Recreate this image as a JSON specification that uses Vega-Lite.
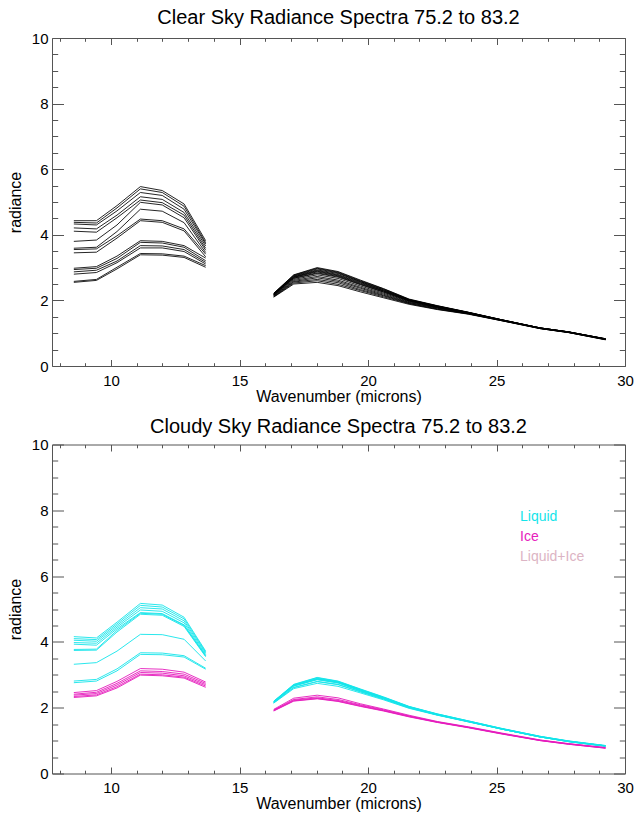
{
  "$schema": "https://vega.github.io/schema/vega-lite/v6.json",
  "padding": {"left": 7, "top": 7, "right": 5, "bottom": 5},
  "spacing": 12.5,
  "resolve": {"legend": {"color": "independent"}},
  "config": {
    "font": "Liberation Sans",
    "view": {"stroke": null},
    "axis": {"grid": false, "domainColor": "#555", "tickColor": "#555", "labelColor": "#000", "labelFontSize": 15, "titleFontSize": 16, "titleFontWeight": "normal", "titleColor": "#000", "labelFlush": false, "labelOverlap": false, "labelBound": false, "tickWidth": 1, "domainWidth": 1},
    "title": {"fontSize": 20, "fontWeight": "normal", "color": "#000", "anchor": "middle", "offset": 3.5}
  },
  "datasets": {
    "clear": [
      {"s":"1a","x":8.55,"y":4.43},{"s":"1a","x":9.43,"y":4.43},{"s":"1a","x":10.23,"y":4.89},{"s":"1a","x":11.14,"y":5.47},{"s":"1a","x":11.99,"y":5.35},{"s":"1a","x":12.84,"y":4.94},{"s":"1a","x":13.68,"y":3.82},
      {"s":"2a","x":8.55,"y":4.38},{"s":"2a","x":9.43,"y":4.36},{"s":"2a","x":10.23,"y":4.82},{"s":"2a","x":11.14,"y":5.40},{"s":"2a","x":11.99,"y":5.29},{"s":"2a","x":12.84,"y":4.87},{"s":"2a","x":13.68,"y":3.76},
      {"s":"3a","x":8.55,"y":4.33},{"s":"3a","x":9.43,"y":4.30},{"s":"3a","x":10.23,"y":4.73},{"s":"3a","x":11.14,"y":5.29},{"s":"3a","x":11.99,"y":5.20},{"s":"3a","x":12.84,"y":4.78},{"s":"3a","x":13.68,"y":3.72},
      {"s":"4a","x":8.55,"y":4.21},{"s":"4a","x":9.43,"y":4.18},{"s":"4a","x":10.23,"y":4.60},{"s":"4a","x":11.14,"y":5.16},{"s":"4a","x":11.99,"y":5.08},{"s":"4a","x":12.84,"y":4.68},{"s":"4a","x":13.68,"y":3.66},
      {"s":"5a","x":8.55,"y":4.11},{"s":"5a","x":9.43,"y":4.08},{"s":"5a","x":10.23,"y":4.52},{"s":"5a","x":11.14,"y":5.06},{"s":"5a","x":11.99,"y":4.98},{"s":"5a","x":12.84,"y":4.60},{"s":"5a","x":13.68,"y":3.59},
      {"s":"6a","x":8.55,"y":3.80},{"s":"6a","x":9.43,"y":3.84},{"s":"6a","x":10.23,"y":4.30},{"s":"6a","x":11.14,"y":4.99},{"s":"6a","x":11.99,"y":4.91},{"s":"6a","x":12.84,"y":4.52},{"s":"6a","x":13.68,"y":3.53},
      {"s":"7a","x":8.55,"y":3.59},{"s":"7a","x":9.43,"y":3.62},{"s":"7a","x":10.23,"y":4.10},{"s":"7a","x":11.14,"y":4.78},{"s":"7a","x":11.99,"y":4.72},{"s":"7a","x":12.84,"y":4.37},{"s":"7a","x":13.68,"y":3.46},
      {"s":"8a","x":8.55,"y":3.55},{"s":"8a","x":9.43,"y":3.57},{"s":"8a","x":10.23,"y":3.97},{"s":"8a","x":11.14,"y":4.48},{"s":"8a","x":11.99,"y":4.43},{"s":"8a","x":12.84,"y":4.18},{"s":"8a","x":13.68,"y":3.41},
      {"s":"9a","x":8.55,"y":3.45},{"s":"9a","x":9.43,"y":3.47},{"s":"9a","x":10.23,"y":3.90},{"s":"9a","x":11.14,"y":4.43},{"s":"9a","x":11.99,"y":4.38},{"s":"9a","x":12.84,"y":4.12},{"s":"9a","x":13.68,"y":3.33},
      {"s":"10a","x":8.55,"y":2.98},{"s":"10a","x":9.43,"y":3.03},{"s":"10a","x":10.23,"y":3.35},{"s":"10a","x":11.14,"y":3.82},{"s":"10a","x":11.99,"y":3.80},{"s":"10a","x":12.84,"y":3.67},{"s":"10a","x":13.68,"y":3.29},
      {"s":"11a","x":8.55,"y":2.94},{"s":"11a","x":9.43,"y":2.98},{"s":"11a","x":10.23,"y":3.28},{"s":"11a","x":11.14,"y":3.77},{"s":"11a","x":11.99,"y":3.75},{"s":"11a","x":12.84,"y":3.62},{"s":"11a","x":13.68,"y":3.21},
      {"s":"12a","x":8.55,"y":2.87},{"s":"12a","x":9.43,"y":2.92},{"s":"12a","x":10.23,"y":3.20},{"s":"12a","x":11.14,"y":3.67},{"s":"12a","x":11.99,"y":3.66},{"s":"12a","x":12.84,"y":3.55},{"s":"12a","x":13.68,"y":3.16},
      {"s":"13a","x":8.55,"y":2.80},{"s":"13a","x":9.43,"y":2.85},{"s":"13a","x":10.23,"y":3.15},{"s":"13a","x":11.14,"y":3.60},{"s":"13a","x":11.99,"y":3.60},{"s":"13a","x":12.84,"y":3.49},{"s":"13a","x":13.68,"y":3.11},
      {"s":"14a","x":8.55,"y":2.58},{"s":"14a","x":9.43,"y":2.64},{"s":"14a","x":10.23,"y":3.01},{"s":"14a","x":11.14,"y":3.43},{"s":"14a","x":11.99,"y":3.42},{"s":"14a","x":12.84,"y":3.35},{"s":"14a","x":13.68,"y":3.06},
      {"s":"15a","x":8.55,"y":2.55},{"s":"15a","x":9.43,"y":2.61},{"s":"15a","x":10.23,"y":2.96},{"s":"15a","x":11.14,"y":3.39},{"s":"15a","x":11.99,"y":3.38},{"s":"15a","x":12.84,"y":3.31},{"s":"15a","x":13.68,"y":3.01},
      {"s":"1b","x":16.33,"y":2.22},{"s":"1b","x":17.11,"y":2.78},{"s":"1b","x":18.02,"y":3.00},{"s":"1b","x":18.83,"y":2.88},{"s":"1b","x":19.7,"y":2.62},{"s":"1b","x":20.6,"y":2.36},{"s":"1b","x":21.6,"y":2.04},{"s":"1b","x":22.7,"y":1.84},{"s":"1b","x":23.9,"y":1.64},{"s":"1b","x":25.2,"y":1.41},{"s":"1b","x":26.7,"y":1.16},{"s":"1b","x":27.8,"y":1.04},{"s":"1b","x":29.24,"y":0.83},
      {"s":"2b","x":16.33,"y":2.21},{"s":"2b","x":17.11,"y":2.77},{"s":"2b","x":18.02,"y":2.98},{"s":"2b","x":18.83,"y":2.86},{"s":"2b","x":19.7,"y":2.60},{"s":"2b","x":20.6,"y":2.35},{"s":"2b","x":21.6,"y":2.03},{"s":"2b","x":22.7,"y":1.83},{"s":"2b","x":23.9,"y":1.64},{"s":"2b","x":25.2,"y":1.41},{"s":"2b","x":26.7,"y":1.16},{"s":"2b","x":27.8,"y":1.04},{"s":"2b","x":29.24,"y":0.83},
      {"s":"3b","x":16.33,"y":2.21},{"s":"3b","x":17.11,"y":2.75},{"s":"3b","x":18.02,"y":2.96},{"s":"3b","x":18.83,"y":2.84},{"s":"3b","x":19.7,"y":2.58},{"s":"3b","x":20.6,"y":2.33},{"s":"3b","x":21.6,"y":2.02},{"s":"3b","x":22.7,"y":1.83},{"s":"3b","x":23.9,"y":1.63},{"s":"3b","x":25.2,"y":1.41},{"s":"3b","x":26.7,"y":1.16},{"s":"3b","x":27.8,"y":1.04},{"s":"3b","x":29.24,"y":0.83},
      {"s":"4b","x":16.33,"y":2.20},{"s":"4b","x":17.11,"y":2.74},{"s":"4b","x":18.02,"y":2.93},{"s":"4b","x":18.83,"y":2.82},{"s":"4b","x":19.7,"y":2.57},{"s":"4b","x":20.6,"y":2.32},{"s":"4b","x":21.6,"y":2.02},{"s":"4b","x":22.7,"y":1.82},{"s":"4b","x":23.9,"y":1.63},{"s":"4b","x":25.2,"y":1.41},{"s":"4b","x":26.7,"y":1.16},{"s":"4b","x":27.8,"y":1.04},{"s":"4b","x":29.24,"y":0.83},
      {"s":"5b","x":16.33,"y":2.20},{"s":"5b","x":17.11,"y":2.72},{"s":"5b","x":18.02,"y":2.91},{"s":"5b","x":18.83,"y":2.79},{"s":"5b","x":19.7,"y":2.55},{"s":"5b","x":20.6,"y":2.30},{"s":"5b","x":21.6,"y":2.01},{"s":"5b","x":22.7,"y":1.82},{"s":"5b","x":23.9,"y":1.63},{"s":"5b","x":25.2,"y":1.40},{"s":"5b","x":26.7,"y":1.16},{"s":"5b","x":27.8,"y":1.04},{"s":"5b","x":29.24,"y":0.82},
      {"s":"6b","x":16.33,"y":2.19},{"s":"6b","x":17.11,"y":2.71},{"s":"6b","x":18.02,"y":2.89},{"s":"6b","x":18.83,"y":2.77},{"s":"6b","x":19.7,"y":2.53},{"s":"6b","x":20.6,"y":2.29},{"s":"6b","x":21.6,"y":2.00},{"s":"6b","x":22.7,"y":1.81},{"s":"6b","x":23.9,"y":1.63},{"s":"6b","x":25.2,"y":1.40},{"s":"6b","x":26.7,"y":1.16},{"s":"6b","x":27.8,"y":1.04},{"s":"6b","x":29.24,"y":0.82},
      {"s":"7b","x":16.33,"y":2.18},{"s":"7b","x":17.11,"y":2.70},{"s":"7b","x":18.02,"y":2.87},{"s":"7b","x":18.83,"y":2.75},{"s":"7b","x":19.7,"y":2.51},{"s":"7b","x":20.6,"y":2.28},{"s":"7b","x":21.6,"y":1.99},{"s":"7b","x":22.7,"y":1.80},{"s":"7b","x":23.9,"y":1.62},{"s":"7b","x":25.2,"y":1.40},{"s":"7b","x":26.7,"y":1.15},{"s":"7b","x":27.8,"y":1.03},{"s":"7b","x":29.24,"y":0.82},
      {"s":"8b","x":16.33,"y":2.18},{"s":"8b","x":17.11,"y":2.68},{"s":"8b","x":18.02,"y":2.84},{"s":"8b","x":18.83,"y":2.73},{"s":"8b","x":19.7,"y":2.49},{"s":"8b","x":20.6,"y":2.26},{"s":"8b","x":21.6,"y":1.98},{"s":"8b","x":22.7,"y":1.80},{"s":"8b","x":23.9,"y":1.62},{"s":"8b","x":25.2,"y":1.40},{"s":"8b","x":26.7,"y":1.15},{"s":"8b","x":27.8,"y":1.03},{"s":"8b","x":29.24,"y":0.82},
      {"s":"9b","x":16.33,"y":2.17},{"s":"9b","x":17.11,"y":2.67},{"s":"9b","x":18.02,"y":2.82},{"s":"9b","x":18.83,"y":2.71},{"s":"9b","x":19.7,"y":2.48},{"s":"9b","x":20.6,"y":2.25},{"s":"9b","x":21.6,"y":1.98},{"s":"9b","x":22.7,"y":1.79},{"s":"9b","x":23.9,"y":1.62},{"s":"9b","x":25.2,"y":1.40},{"s":"9b","x":26.7,"y":1.15},{"s":"9b","x":27.8,"y":1.03},{"s":"9b","x":29.24,"y":0.82},
      {"s":"10b","x":16.33,"y":2.16},{"s":"10b","x":17.11,"y":2.64},{"s":"10b","x":18.02,"y":2.78},{"s":"10b","x":18.83,"y":2.67},{"s":"10b","x":19.7,"y":2.44},{"s":"10b","x":20.6,"y":2.22},{"s":"10b","x":21.6,"y":1.96},{"s":"10b","x":22.7,"y":1.78},{"s":"10b","x":23.9,"y":1.61},{"s":"10b","x":25.2,"y":1.40},{"s":"10b","x":26.7,"y":1.15},{"s":"10b","x":27.8,"y":1.03},{"s":"10b","x":29.24,"y":0.82},
      {"s":"11b","x":16.33,"y":2.15},{"s":"11b","x":17.11,"y":2.61},{"s":"11b","x":18.02,"y":2.73},{"s":"11b","x":18.83,"y":2.62},{"s":"11b","x":19.7,"y":2.40},{"s":"11b","x":20.6,"y":2.19},{"s":"11b","x":21.6,"y":1.94},{"s":"11b","x":22.7,"y":1.77},{"s":"11b","x":23.9,"y":1.60},{"s":"11b","x":25.2,"y":1.39},{"s":"11b","x":26.7,"y":1.15},{"s":"11b","x":27.8,"y":1.03},{"s":"11b","x":29.24,"y":0.81},
      {"s":"12b","x":16.33,"y":2.14},{"s":"12b","x":17.11,"y":2.58},{"s":"12b","x":18.02,"y":2.69},{"s":"12b","x":18.83,"y":2.58},{"s":"12b","x":19.7,"y":2.37},{"s":"12b","x":20.6,"y":2.16},{"s":"12b","x":21.6,"y":1.93},{"s":"12b","x":22.7,"y":1.76},{"s":"12b","x":23.9,"y":1.60},{"s":"12b","x":25.2,"y":1.39},{"s":"12b","x":26.7,"y":1.15},{"s":"12b","x":27.8,"y":1.03},{"s":"12b","x":29.24,"y":0.81},
      {"s":"13b","x":16.33,"y":2.12},{"s":"13b","x":17.11,"y":2.56},{"s":"13b","x":18.02,"y":2.64},{"s":"13b","x":18.83,"y":2.54},{"s":"13b","x":19.7,"y":2.33},{"s":"13b","x":20.6,"y":2.14},{"s":"13b","x":21.6,"y":1.91},{"s":"13b","x":22.7,"y":1.74},{"s":"13b","x":23.9,"y":1.59},{"s":"13b","x":25.2,"y":1.39},{"s":"13b","x":26.7,"y":1.14},{"s":"13b","x":27.8,"y":1.02},{"s":"13b","x":29.24,"y":0.81},
      {"s":"14b","x":16.33,"y":2.11},{"s":"14b","x":17.11,"y":2.53},{"s":"14b","x":18.02,"y":2.60},{"s":"14b","x":18.83,"y":2.49},{"s":"14b","x":19.7,"y":2.30},{"s":"14b","x":20.6,"y":2.11},{"s":"14b","x":21.6,"y":1.90},{"s":"14b","x":22.7,"y":1.73},{"s":"14b","x":23.9,"y":1.59},{"s":"14b","x":25.2,"y":1.38},{"s":"14b","x":26.7,"y":1.14},{"s":"14b","x":27.8,"y":1.02},{"s":"14b","x":29.24,"y":0.80},
      {"s":"15b","x":16.33,"y":2.10},{"s":"15b","x":17.11,"y":2.50},{"s":"15b","x":18.02,"y":2.55},{"s":"15b","x":18.83,"y":2.45},{"s":"15b","x":19.7,"y":2.26},{"s":"15b","x":20.6,"y":2.08},{"s":"15b","x":21.6,"y":1.88},{"s":"15b","x":22.7,"y":1.72},{"s":"15b","x":23.9,"y":1.58},{"s":"15b","x":25.2,"y":1.38},{"s":"15b","x":26.7,"y":1.14},{"s":"15b","x":27.8,"y":1.02},{"s":"15b","x":29.24,"y":0.80}
    ],
    "cloudy": [
      {"s":"L1a","t":"Liquid","x":8.55,"y":4.16},{"s":"L1a","t":"Liquid","x":9.43,"y":4.12},{"s":"L1a","t":"Liquid","x":10.23,"y":4.60},{"s":"L1a","t":"Liquid","x":11.14,"y":5.17},{"s":"L1a","t":"Liquid","x":11.99,"y":5.12},{"s":"L1a","t":"Liquid","x":12.84,"y":4.75},{"s":"L1a","t":"Liquid","x":13.68,"y":3.72},
      {"s":"L2a","t":"Liquid","x":8.55,"y":4.10},{"s":"L2a","t":"Liquid","x":9.43,"y":4.07},{"s":"L2a","t":"Liquid","x":10.23,"y":4.55},{"s":"L2a","t":"Liquid","x":11.14,"y":5.11},{"s":"L2a","t":"Liquid","x":11.99,"y":5.06},{"s":"L2a","t":"Liquid","x":12.84,"y":4.70},{"s":"L2a","t":"Liquid","x":13.68,"y":3.69},
      {"s":"L3a","t":"Liquid","x":8.55,"y":4.05},{"s":"L3a","t":"Liquid","x":9.43,"y":4.02},{"s":"L3a","t":"Liquid","x":10.23,"y":4.50},{"s":"L3a","t":"Liquid","x":11.14,"y":5.04},{"s":"L3a","t":"Liquid","x":11.99,"y":5.00},{"s":"L3a","t":"Liquid","x":12.84,"y":4.64},{"s":"L3a","t":"Liquid","x":13.68,"y":3.66},
      {"s":"L4a","t":"Liquid","x":8.55,"y":3.98},{"s":"L4a","t":"Liquid","x":9.43,"y":3.96},{"s":"L4a","t":"Liquid","x":10.23,"y":4.45},{"s":"L4a","t":"Liquid","x":11.14,"y":4.97},{"s":"L4a","t":"Liquid","x":11.99,"y":4.93},{"s":"L4a","t":"Liquid","x":12.84,"y":4.58},{"s":"L4a","t":"Liquid","x":13.68,"y":3.62},
      {"s":"L5a","t":"Liquid","x":8.55,"y":3.93},{"s":"L5a","t":"Liquid","x":9.43,"y":3.90},{"s":"L5a","t":"Liquid","x":10.23,"y":4.40},{"s":"L5a","t":"Liquid","x":11.14,"y":4.89},{"s":"L5a","t":"Liquid","x":11.99,"y":4.86},{"s":"L5a","t":"Liquid","x":12.84,"y":4.52},{"s":"L5a","t":"Liquid","x":13.68,"y":3.59},
      {"s":"L6a","t":"Liquid","x":8.55,"y":3.77},{"s":"L6a","t":"Liquid","x":9.43,"y":3.78},{"s":"L6a","t":"Liquid","x":10.23,"y":4.35},{"s":"L6a","t":"Liquid","x":11.14,"y":4.87},{"s":"L6a","t":"Liquid","x":11.99,"y":4.84},{"s":"L6a","t":"Liquid","x":12.84,"y":4.50},{"s":"L6a","t":"Liquid","x":13.68,"y":3.57},
      {"s":"L7a","t":"Liquid","x":8.55,"y":3.74},{"s":"L7a","t":"Liquid","x":9.43,"y":3.75},{"s":"L7a","t":"Liquid","x":10.23,"y":4.30},{"s":"L7a","t":"Liquid","x":11.14,"y":4.84},{"s":"L7a","t":"Liquid","x":11.99,"y":4.81},{"s":"L7a","t":"Liquid","x":12.84,"y":4.47},{"s":"L7a","t":"Liquid","x":13.68,"y":3.55},
      {"s":"L8a","t":"Liquid","x":8.55,"y":3.32},{"s":"L8a","t":"Liquid","x":9.43,"y":3.37},{"s":"L8a","t":"Liquid","x":10.23,"y":3.72},{"s":"L8a","t":"Liquid","x":11.14,"y":4.23},{"s":"L8a","t":"Liquid","x":11.99,"y":4.22},{"s":"L8a","t":"Liquid","x":12.84,"y":4.08},{"s":"L8a","t":"Liquid","x":13.68,"y":3.42},
      {"s":"L9a","t":"Liquid","x":8.55,"y":2.81},{"s":"L9a","t":"Liquid","x":9.43,"y":2.86},{"s":"L9a","t":"Liquid","x":10.23,"y":3.18},{"s":"L9a","t":"Liquid","x":11.14,"y":3.67},{"s":"L9a","t":"Liquid","x":11.99,"y":3.66},{"s":"L9a","t":"Liquid","x":12.84,"y":3.58},{"s":"L9a","t":"Liquid","x":13.68,"y":3.20},
      {"s":"L10a","t":"Liquid","x":8.55,"y":2.76},{"s":"L10a","t":"Liquid","x":9.43,"y":2.81},{"s":"L10a","t":"Liquid","x":10.23,"y":3.12},{"s":"L10a","t":"Liquid","x":11.14,"y":3.62},{"s":"L10a","t":"Liquid","x":11.99,"y":3.61},{"s":"L10a","t":"Liquid","x":12.84,"y":3.54},{"s":"L10a","t":"Liquid","x":13.68,"y":3.17},
      {"s":"I1a","t":"Ice","x":8.55,"y":2.46},{"s":"I1a","t":"Ice","x":9.43,"y":2.52},{"s":"I1a","t":"Ice","x":10.23,"y":2.80},{"s":"I1a","t":"Ice","x":11.14,"y":3.19},{"s":"I1a","t":"Ice","x":11.99,"y":3.17},{"s":"I1a","t":"Ice","x":12.84,"y":3.08},{"s":"I1a","t":"Ice","x":13.68,"y":2.78},
      {"s":"I2a","t":"Ice","x":8.55,"y":2.41},{"s":"I2a","t":"Ice","x":9.43,"y":2.47},{"s":"I2a","t":"Ice","x":10.23,"y":2.74},{"s":"I2a","t":"Ice","x":11.14,"y":3.12},{"s":"I2a","t":"Ice","x":11.99,"y":3.10},{"s":"I2a","t":"Ice","x":12.84,"y":3.02},{"s":"I2a","t":"Ice","x":13.68,"y":2.74},
      {"s":"I3a","t":"Ice","x":8.55,"y":2.38},{"s":"I3a","t":"Ice","x":9.43,"y":2.43},{"s":"I3a","t":"Ice","x":10.23,"y":2.69},{"s":"I3a","t":"Ice","x":11.14,"y":3.07},{"s":"I3a","t":"Ice","x":11.99,"y":3.05},{"s":"I3a","t":"Ice","x":12.84,"y":2.97},{"s":"I3a","t":"Ice","x":13.68,"y":2.70},
      {"s":"I4a","t":"Ice","x":8.55,"y":2.34},{"s":"I4a","t":"Ice","x":9.43,"y":2.39},{"s":"I4a","t":"Ice","x":10.23,"y":2.64},{"s":"I4a","t":"Ice","x":11.14,"y":3.02},{"s":"I4a","t":"Ice","x":11.99,"y":3.00},{"s":"I4a","t":"Ice","x":12.84,"y":2.93},{"s":"I4a","t":"Ice","x":13.68,"y":2.66},
      {"s":"I5a","t":"Ice","x":8.55,"y":2.31},{"s":"I5a","t":"Ice","x":9.43,"y":2.36},{"s":"I5a","t":"Ice","x":10.23,"y":2.60},{"s":"I5a","t":"Ice","x":11.14,"y":2.99},{"s":"I5a","t":"Ice","x":11.99,"y":2.97},{"s":"I5a","t":"Ice","x":12.84,"y":2.90},{"s":"I5a","t":"Ice","x":13.68,"y":2.62},
      {"s":"L1b","t":"Liquid","x":16.33,"y":2.20},{"s":"L1b","t":"Liquid","x":17.11,"y":2.71},{"s":"L1b","t":"Liquid","x":18.02,"y":2.92},{"s":"L1b","t":"Liquid","x":18.83,"y":2.81},{"s":"L1b","t":"Liquid","x":19.7,"y":2.57},{"s":"L1b","t":"Liquid","x":20.6,"y":2.33},{"s":"L1b","t":"Liquid","x":21.6,"y":2.04},{"s":"L1b","t":"Liquid","x":22.7,"y":1.81},{"s":"L1b","t":"Liquid","x":23.9,"y":1.60},{"s":"L1b","t":"Liquid","x":25.2,"y":1.37},{"s":"L1b","t":"Liquid","x":26.7,"y":1.13},{"s":"L1b","t":"Liquid","x":27.8,"y":0.99},{"s":"L1b","t":"Liquid","x":29.24,"y":0.85},
      {"s":"L2b","t":"Liquid","x":16.33,"y":2.19},{"s":"L2b","t":"Liquid","x":17.11,"y":2.70},{"s":"L2b","t":"Liquid","x":18.02,"y":2.91},{"s":"L2b","t":"Liquid","x":18.83,"y":2.80},{"s":"L2b","t":"Liquid","x":19.7,"y":2.56},{"s":"L2b","t":"Liquid","x":20.6,"y":2.32},{"s":"L2b","t":"Liquid","x":21.6,"y":2.03},{"s":"L2b","t":"Liquid","x":22.7,"y":1.81},{"s":"L2b","t":"Liquid","x":23.9,"y":1.60},{"s":"L2b","t":"Liquid","x":25.2,"y":1.37},{"s":"L2b","t":"Liquid","x":26.7,"y":1.13},{"s":"L2b","t":"Liquid","x":27.8,"y":0.99},{"s":"L2b","t":"Liquid","x":29.24,"y":0.85},
      {"s":"L3b","t":"Liquid","x":16.33,"y":2.19},{"s":"L3b","t":"Liquid","x":17.11,"y":2.69},{"s":"L3b","t":"Liquid","x":18.02,"y":2.89},{"s":"L3b","t":"Liquid","x":18.83,"y":2.79},{"s":"L3b","t":"Liquid","x":19.7,"y":2.55},{"s":"L3b","t":"Liquid","x":20.6,"y":2.31},{"s":"L3b","t":"Liquid","x":21.6,"y":2.03},{"s":"L3b","t":"Liquid","x":22.7,"y":1.80},{"s":"L3b","t":"Liquid","x":23.9,"y":1.59},{"s":"L3b","t":"Liquid","x":25.2,"y":1.36},{"s":"L3b","t":"Liquid","x":26.7,"y":1.12},{"s":"L3b","t":"Liquid","x":27.8,"y":0.98},{"s":"L3b","t":"Liquid","x":29.24,"y":0.84},
      {"s":"L4b","t":"Liquid","x":16.33,"y":2.18},{"s":"L4b","t":"Liquid","x":17.11,"y":2.68},{"s":"L4b","t":"Liquid","x":18.02,"y":2.88},{"s":"L4b","t":"Liquid","x":18.83,"y":2.78},{"s":"L4b","t":"Liquid","x":19.7,"y":2.54},{"s":"L4b","t":"Liquid","x":20.6,"y":2.31},{"s":"L4b","t":"Liquid","x":21.6,"y":2.02},{"s":"L4b","t":"Liquid","x":22.7,"y":1.80},{"s":"L4b","t":"Liquid","x":23.9,"y":1.59},{"s":"L4b","t":"Liquid","x":25.2,"y":1.36},{"s":"L4b","t":"Liquid","x":26.7,"y":1.12},{"s":"L4b","t":"Liquid","x":27.8,"y":0.98},{"s":"L4b","t":"Liquid","x":29.24,"y":0.84},
      {"s":"L5b","t":"Liquid","x":16.33,"y":2.18},{"s":"L5b","t":"Liquid","x":17.11,"y":2.67},{"s":"L5b","t":"Liquid","x":18.02,"y":2.87},{"s":"L5b","t":"Liquid","x":18.83,"y":2.77},{"s":"L5b","t":"Liquid","x":19.7,"y":2.53},{"s":"L5b","t":"Liquid","x":20.6,"y":2.30},{"s":"L5b","t":"Liquid","x":21.6,"y":2.02},{"s":"L5b","t":"Liquid","x":22.7,"y":1.79},{"s":"L5b","t":"Liquid","x":23.9,"y":1.58},{"s":"L5b","t":"Liquid","x":25.2,"y":1.36},{"s":"L5b","t":"Liquid","x":26.7,"y":1.12},{"s":"L5b","t":"Liquid","x":27.8,"y":0.98},{"s":"L5b","t":"Liquid","x":29.24,"y":0.84},
      {"s":"L6b","t":"Liquid","x":16.33,"y":2.17},{"s":"L6b","t":"Liquid","x":17.11,"y":2.66},{"s":"L6b","t":"Liquid","x":18.02,"y":2.86},{"s":"L6b","t":"Liquid","x":18.83,"y":2.76},{"s":"L6b","t":"Liquid","x":19.7,"y":2.52},{"s":"L6b","t":"Liquid","x":20.6,"y":2.29},{"s":"L6b","t":"Liquid","x":21.6,"y":2.01},{"s":"L6b","t":"Liquid","x":22.7,"y":1.79},{"s":"L6b","t":"Liquid","x":23.9,"y":1.58},{"s":"L6b","t":"Liquid","x":25.2,"y":1.35},{"s":"L6b","t":"Liquid","x":26.7,"y":1.11},{"s":"L6b","t":"Liquid","x":27.8,"y":0.98},{"s":"L6b","t":"Liquid","x":29.24,"y":0.84},
      {"s":"L7b","t":"Liquid","x":16.33,"y":2.17},{"s":"L7b","t":"Liquid","x":17.11,"y":2.66},{"s":"L7b","t":"Liquid","x":18.02,"y":2.85},{"s":"L7b","t":"Liquid","x":18.83,"y":2.75},{"s":"L7b","t":"Liquid","x":19.7,"y":2.51},{"s":"L7b","t":"Liquid","x":20.6,"y":2.28},{"s":"L7b","t":"Liquid","x":21.6,"y":2.01},{"s":"L7b","t":"Liquid","x":22.7,"y":1.78},{"s":"L7b","t":"Liquid","x":23.9,"y":1.58},{"s":"L7b","t":"Liquid","x":25.2,"y":1.35},{"s":"L7b","t":"Liquid","x":26.7,"y":1.11},{"s":"L7b","t":"Liquid","x":27.8,"y":0.97},{"s":"L7b","t":"Liquid","x":29.24,"y":0.83},
      {"s":"L8b","t":"Liquid","x":16.33,"y":2.14},{"s":"L8b","t":"Liquid","x":17.11,"y":2.58},{"s":"L8b","t":"Liquid","x":18.02,"y":2.74},{"s":"L8b","t":"Liquid","x":18.83,"y":2.65},{"s":"L8b","t":"Liquid","x":19.7,"y":2.45},{"s":"L8b","t":"Liquid","x":20.6,"y":2.24},{"s":"L8b","t":"Liquid","x":21.6,"y":1.98},{"s":"L8b","t":"Liquid","x":22.7,"y":1.77},{"s":"L8b","t":"Liquid","x":23.9,"y":1.57},{"s":"L8b","t":"Liquid","x":25.2,"y":1.35},{"s":"L8b","t":"Liquid","x":26.7,"y":1.11},{"s":"L8b","t":"Liquid","x":27.8,"y":0.97},{"s":"L8b","t":"Liquid","x":29.24,"y":0.83},
      {"s":"L9b","t":"Liquid","x":16.33,"y":2.15},{"s":"L9b","t":"Liquid","x":17.11,"y":2.62},{"s":"L9b","t":"Liquid","x":18.02,"y":2.80},{"s":"L9b","t":"Liquid","x":18.83,"y":2.71},{"s":"L9b","t":"Liquid","x":19.7,"y":2.49},{"s":"L9b","t":"Liquid","x":20.6,"y":2.27},{"s":"L9b","t":"Liquid","x":21.6,"y":2.00},{"s":"L9b","t":"Liquid","x":22.7,"y":1.78},{"s":"L9b","t":"Liquid","x":23.9,"y":1.58},{"s":"L9b","t":"Liquid","x":25.2,"y":1.35},{"s":"L9b","t":"Liquid","x":26.7,"y":1.11},{"s":"L9b","t":"Liquid","x":27.8,"y":0.97},{"s":"L9b","t":"Liquid","x":29.24,"y":0.83},
      {"s":"L10b","t":"Liquid","x":16.33,"y":2.15},{"s":"L10b","t":"Liquid","x":17.11,"y":2.61},{"s":"L10b","t":"Liquid","x":18.02,"y":2.79},{"s":"L10b","t":"Liquid","x":18.83,"y":2.70},{"s":"L10b","t":"Liquid","x":19.7,"y":2.48},{"s":"L10b","t":"Liquid","x":20.6,"y":2.26},{"s":"L10b","t":"Liquid","x":21.6,"y":1.99},{"s":"L10b","t":"Liquid","x":22.7,"y":1.78},{"s":"L10b","t":"Liquid","x":23.9,"y":1.57},{"s":"L10b","t":"Liquid","x":25.2,"y":1.35},{"s":"L10b","t":"Liquid","x":26.7,"y":1.11},{"s":"L10b","t":"Liquid","x":27.8,"y":0.97},{"s":"L10b","t":"Liquid","x":29.24,"y":0.83},
      {"s":"I1b","t":"Ice","x":16.33,"y":1.95},{"s":"I1b","t":"Ice","x":17.11,"y":2.29},{"s":"I1b","t":"Ice","x":18.02,"y":2.38},{"s":"I1b","t":"Ice","x":18.83,"y":2.30},{"s":"I1b","t":"Ice","x":19.7,"y":2.12},{"s":"I1b","t":"Ice","x":20.6,"y":1.96},{"s":"I1b","t":"Ice","x":21.6,"y":1.77},{"s":"I1b","t":"Ice","x":22.7,"y":1.58},{"s":"I1b","t":"Ice","x":23.9,"y":1.42},{"s":"I1b","t":"Ice","x":25.2,"y":1.23},{"s":"I1b","t":"Ice","x":26.7,"y":1.02},{"s":"I1b","t":"Ice","x":27.8,"y":0.91},{"s":"I1b","t":"Ice","x":29.24,"y":0.79},
      {"s":"I2b","t":"Ice","x":16.33,"y":1.93},{"s":"I2b","t":"Ice","x":17.11,"y":2.25},{"s":"I2b","t":"Ice","x":18.02,"y":2.33},{"s":"I2b","t":"Ice","x":18.83,"y":2.25},{"s":"I2b","t":"Ice","x":19.7,"y":2.09},{"s":"I2b","t":"Ice","x":20.6,"y":1.94},{"s":"I2b","t":"Ice","x":21.6,"y":1.75},{"s":"I2b","t":"Ice","x":22.7,"y":1.57},{"s":"I2b","t":"Ice","x":23.9,"y":1.41},{"s":"I2b","t":"Ice","x":25.2,"y":1.22},{"s":"I2b","t":"Ice","x":26.7,"y":1.01},{"s":"I2b","t":"Ice","x":27.8,"y":0.90},{"s":"I2b","t":"Ice","x":29.24,"y":0.78},
      {"s":"I3b","t":"Ice","x":16.33,"y":1.92},{"s":"I3b","t":"Ice","x":17.11,"y":2.23},{"s":"I3b","t":"Ice","x":18.02,"y":2.30},{"s":"I3b","t":"Ice","x":18.83,"y":2.22},{"s":"I3b","t":"Ice","x":19.7,"y":2.07},{"s":"I3b","t":"Ice","x":20.6,"y":1.92},{"s":"I3b","t":"Ice","x":21.6,"y":1.74},{"s":"I3b","t":"Ice","x":22.7,"y":1.56},{"s":"I3b","t":"Ice","x":23.9,"y":1.40},{"s":"I3b","t":"Ice","x":25.2,"y":1.21},{"s":"I3b","t":"Ice","x":26.7,"y":1.01},{"s":"I3b","t":"Ice","x":27.8,"y":0.90},{"s":"I3b","t":"Ice","x":29.24,"y":0.78},
      {"s":"I4b","t":"Ice","x":16.33,"y":1.91},{"s":"I4b","t":"Ice","x":17.11,"y":2.21},{"s":"I4b","t":"Ice","x":18.02,"y":2.28},{"s":"I4b","t":"Ice","x":18.83,"y":2.20},{"s":"I4b","t":"Ice","x":19.7,"y":2.05},{"s":"I4b","t":"Ice","x":20.6,"y":1.91},{"s":"I4b","t":"Ice","x":21.6,"y":1.73},{"s":"I4b","t":"Ice","x":22.7,"y":1.56},{"s":"I4b","t":"Ice","x":23.9,"y":1.40},{"s":"I4b","t":"Ice","x":25.2,"y":1.21},{"s":"I4b","t":"Ice","x":26.7,"y":1.00},{"s":"I4b","t":"Ice","x":27.8,"y":0.89},{"s":"I4b","t":"Ice","x":29.24,"y":0.77},
      {"s":"I5b","t":"Ice","x":16.33,"y":1.90},{"s":"I5b","t":"Ice","x":17.11,"y":2.20},{"s":"I5b","t":"Ice","x":18.02,"y":2.27},{"s":"I5b","t":"Ice","x":18.83,"y":2.19},{"s":"I5b","t":"Ice","x":19.7,"y":2.04},{"s":"I5b","t":"Ice","x":20.6,"y":1.90},{"s":"I5b","t":"Ice","x":21.6,"y":1.72},{"s":"I5b","t":"Ice","x":22.7,"y":1.55},{"s":"I5b","t":"Ice","x":23.9,"y":1.39},{"s":"I5b","t":"Ice","x":25.2,"y":1.20},{"s":"I5b","t":"Ice","x":26.7,"y":1.00},{"s":"I5b","t":"Ice","x":27.8,"y":0.89},{"s":"I5b","t":"Ice","x":29.24,"y":0.77}
    ]
  },
  "vconcat": [
    {
      "width": 573, "height": 328,
      "title": {"text": "Clear Sky Radiance Spectra 75.2 to 83.2"},
      "data": {"name": "clear"},
      "layer": [
        {
          "mark": {"type": "line", "stroke": "#000", "strokeWidth": 1, "opacity": 0.85},
          "encoding": {
            "x": {"field": "x", "type": "quantitative", "scale": {"domain": [7.7, 30], "nice": false, "zero": false}, "axis": {"orient": "bottom", "values": [10, 15, 20, 25, 30], "tickSize": -6.5, "labelPadding": 13.5, "title": "Wavenumber (microns)", "titlePadding": 0}},
            "y": {"field": "y", "type": "quantitative", "scale": {"domain": [0, 10], "nice": false, "zero": false}, "axis": {"orient": "left", "values": [0, 2, 4, 6, 8, 10], "tickSize": -11.5, "labelPadding": 15.5, "title": "radiance", "titlePadding": 8}},
            "detail": {"field": "s"}
          }
        },
        {
          "transform": [{"filter": "datum.s == '1a'"}],
          "mark": {"type": "point", "opacity": 0},
          "encoding": {
            "x": {"field": "x", "type": "quantitative", "scale": {"domain": [7.7, 30], "nice": false, "zero": false}, "axis": {"orient": "bottom", "values": [8, 9, 11, 12, 13, 14, 16, 17, 18, 19, 21, 22, 23, 24, 26, 27, 28, 29], "tickSize": -3.3, "labels": false, "domain": false, "title": null}},
            "y": {"field": "y", "type": "quantitative", "scale": {"domain": [0, 10], "nice": false, "zero": false}, "axis": {"orient": "left", "values": [0.5, 1, 1.5, 2.5, 3, 3.5, 4.5, 5, 5.5, 6.5, 7, 7.5, 8.5, 9, 9.5], "tickSize": -5.7, "labels": false, "domain": false, "title": null}}
          }
        },
        {
          "transform": [{"filter": "datum.s == '1a'"}],
          "mark": {"type": "point", "opacity": 0},
          "encoding": {
            "x": {"field": "x", "type": "quantitative", "scale": {"domain": [7.7, 30], "nice": false, "zero": false}, "axis": {"orient": "top", "values": [10, 15, 20, 25, 30], "tickSize": -6.5, "labels": false, "title": null}},
            "y": {"field": "y", "type": "quantitative", "scale": {"domain": [0, 10], "nice": false, "zero": false}, "axis": {"orient": "right", "values": [0, 2, 4, 6, 8, 10], "tickSize": -11.5, "labels": false, "title": null}}
          }
        },
        {
          "transform": [{"filter": "datum.s == '1a'"}],
          "mark": {"type": "point", "opacity": 0},
          "encoding": {
            "x": {"field": "x", "type": "quantitative", "scale": {"domain": [7.7, 30], "nice": false, "zero": false}, "axis": {"orient": "top", "values": [8, 9, 11, 12, 13, 14, 16, 17, 18, 19, 21, 22, 23, 24, 26, 27, 28, 29], "tickSize": -3.3, "labels": false, "domain": false, "title": null}},
            "y": {"field": "y", "type": "quantitative", "scale": {"domain": [0, 10], "nice": false, "zero": false}, "axis": {"orient": "right", "values": [0.5, 1, 1.5, 2.5, 3, 3.5, 4.5, 5, 5.5, 6.5, 7, 7.5, 8.5, 9, 9.5], "tickSize": -5.7, "labels": false, "domain": false, "title": null}}
          }
        }
      ],
      "resolve": {"axis": {"x": "independent", "y": "independent"}}
    },
    {
      "width": 573, "height": 329,
      "title": {"text": "Cloudy Sky Radiance Spectra 75.2 to 83.2", "offset": 1},
      "data": {"name": "cloudy"},
      "layer": [
        {
          "mark": {"type": "line", "strokeWidth": 1, "opacity": 0.9},
          "encoding": {
            "x": {"field": "x", "type": "quantitative", "scale": {"domain": [7.7, 30], "nice": false, "zero": false}, "axis": {"orient": "bottom", "values": [10, 15, 20, 25, 30], "tickSize": -6.5, "labelPadding": 13.5, "title": "Wavenumber (microns)", "titlePadding": 0}},
            "y": {"field": "y", "type": "quantitative", "scale": {"domain": [0, 10], "nice": false, "zero": false}, "axis": {"orient": "left", "values": [0, 2, 4, 6, 8, 10], "tickSize": -11.5, "labelPadding": 15.5, "title": "radiance", "titlePadding": 8}},
            "detail": {"field": "s"},
            "color": {"field": "t", "type": "nominal", "scale": {"domain": ["Liquid", "Ice", "Liquid+Ice"], "range": ["#14e4ea", "#e61cbc", "#dcb4c4"]},
              "legend": {"orient": "none", "legendX": 454, "legendY": 65, "title": null, "symbolSize": 0, "symbolStrokeWidth": 0, "symbolOpacity": 0, "labelOffset": 0, "labelFontSize": 14, "rowPadding": 6, "padding": 0,
                "labelColor": {"expr": "datum.value === 'Liquid' ? '#14e4ea' : datum.value === 'Ice' ? '#e61cbc' : '#dcb4c4'"}}}
          }
        },
        {
          "transform": [{"filter": "datum.s == 'L1a'"}],
          "mark": {"type": "point", "opacity": 0},
          "encoding": {
            "x": {"field": "x", "type": "quantitative", "scale": {"domain": [7.7, 30], "nice": false, "zero": false}, "axis": {"orient": "bottom", "values": [8, 9, 11, 12, 13, 14, 16, 17, 18, 19, 21, 22, 23, 24, 26, 27, 28, 29], "tickSize": -3.3, "labels": false, "domain": false, "title": null}},
            "y": {"field": "y", "type": "quantitative", "scale": {"domain": [0, 10], "nice": false, "zero": false}, "axis": {"orient": "left", "values": [0.5, 1, 1.5, 2.5, 3, 3.5, 4.5, 5, 5.5, 6.5, 7, 7.5, 8.5, 9, 9.5], "tickSize": -5.7, "labels": false, "domain": false, "title": null}}
          }
        },
        {
          "transform": [{"filter": "datum.s == 'L1a'"}],
          "mark": {"type": "point", "opacity": 0},
          "encoding": {
            "x": {"field": "x", "type": "quantitative", "scale": {"domain": [7.7, 30], "nice": false, "zero": false}, "axis": {"orient": "top", "values": [10, 15, 20, 25, 30], "tickSize": -6.5, "labels": false, "title": null}},
            "y": {"field": "y", "type": "quantitative", "scale": {"domain": [0, 10], "nice": false, "zero": false}, "axis": {"orient": "right", "values": [0, 2, 4, 6, 8, 10], "tickSize": -11.5, "labels": false, "title": null}}
          }
        },
        {
          "transform": [{"filter": "datum.s == 'L1a'"}],
          "mark": {"type": "point", "opacity": 0},
          "encoding": {
            "x": {"field": "x", "type": "quantitative", "scale": {"domain": [7.7, 30], "nice": false, "zero": false}, "axis": {"orient": "top", "values": [8, 9, 11, 12, 13, 14, 16, 17, 18, 19, 21, 22, 23, 24, 26, 27, 28, 29], "tickSize": -3.3, "labels": false, "domain": false, "title": null}},
            "y": {"field": "y", "type": "quantitative", "scale": {"domain": [0, 10], "nice": false, "zero": false}, "axis": {"orient": "right", "values": [0.5, 1, 1.5, 2.5, 3, 3.5, 4.5, 5, 5.5, 6.5, 7, 7.5, 8.5, 9, 9.5], "tickSize": -5.7, "labels": false, "domain": false, "title": null}}
          }
        }
      ],
      "resolve": {"axis": {"x": "independent", "y": "independent"}}
    }
  ]
}
